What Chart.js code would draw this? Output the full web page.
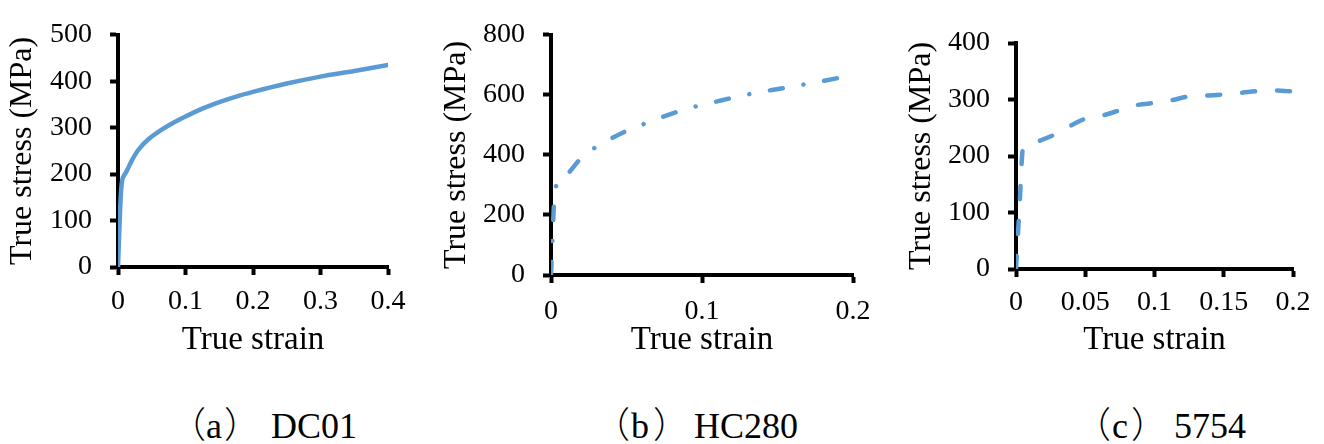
<!DOCTYPE html>
<html>
<head>
<meta charset="utf-8">
<script src="https://cdn.jsdelivr.net/npm/chart.js@4.4.1/dist/chart.umd.min.js"></script>
<style>
  html, body { margin: 0; padding: 0; background: #fff; }
  body { width: 1324px; height: 444px; position: relative; overflow: hidden; }
  canvas { position: absolute; top: 0; }
  .cap { position: absolute; top: 402px; font-family: 'Liberation Serif'; font-size: 36px; line-height: 40px; white-space: nowrap; color: #000; }
  .cap span { display: inline-block; }
  .cj { font-family: 'Noto Sans CJK SC'; font-weight: 300; }
</style>
</head>
<body>
<canvas id="cA" width="430" height="380" style="left:0px"></canvas>
<canvas id="cB" width="460" height="380" style="left:430px"></canvas>
<canvas id="cC" width="434" height="380" style="left:890px"></canvas>
<div class="cap" style="left:170px"><span class="cj" style="width:36px">（</span><span style="width:18px">a</span><span class="cj" style="width:47px">）</span><span>DC01</span></div>
<div class="cap" style="left:594px"><span class="cj" style="width:37px">（</span><span style="width:22px">b</span><span class="cj" style="width:41px">）</span><span>HC280</span></div>
<div class="cap" style="left:1075px"><span class="cj" style="width:37px">（</span><span style="width:19px">c</span><span class="cj" style="width:43px">）</span><span>5754</span></div>
<script>
// ---- data ----
const strainA = [0, 0.002, 0.004, 0.006, 0.009, 0.013, 0.02, 0.03, 0.045, 0.063, 0.08, 0.1, 0.125, 0.15, 0.175, 0.2, 0.25, 0.3, 0.35, 0.4];
const stressA = [0, 80, 150, 185, 197, 207, 228, 252, 275, 294, 309, 324, 341, 355, 367, 377, 395, 410, 422, 435];

const strainB = [0, 0.001, 0.002, 0.0033, 0.011, 0.019, 0.028, 0.039, 0.05, 0.062, 0.073, 0.084, 0.097, 0.109, 0.12, 0.132, 0.145, 0.156, 0.169, 0.181, 0.193];
const stressB = [0, 120, 240, 295, 338, 384, 420, 452, 480, 504, 525, 544, 563, 577, 590, 603, 615, 624, 636, 647, 659];

const strainC = [0, 0.0025, 0.005, 0.008, 0.015, 0.027, 0.039, 0.05, 0.063, 0.075, 0.087, 0.1, 0.113, 0.124, 0.138, 0.15, 0.163, 0.175, 0.188, 0.2];
const stressC = [0, 108, 213, 219, 225, 237, 253, 266, 272, 281, 290, 294, 299, 305, 307, 309, 312, 315, 316, 314];

const xTicksA = [0, 0.1, 0.2, 0.3, 0.4];
const yTicksA = [0, 100, 200, 300, 400, 500];
const xTicksB = [0, 0.1, 0.2];
const yTicksB = [0, 200, 400, 600, 800];
const xTicksC = [0, 0.05, 0.1, 0.15, 0.2];
const yTicksC = [0, 100, 200, 300, 400];

const xTitle = 'True strain';
const yTitle = 'True stress (MPa)';

// ---- styling ----
const FAM = "'Liberation Serif'";
Chart.defaults.font.family = FAM;
Chart.defaults.color = '#000';
const LINE = '#5B9BD5';

function makeChart(id, xs, ys, xTicks, yTicks, dash, lay) {
  const pts = xs.map((x, i) => ({ x: x, y: ys[i] }));
  return new Chart(document.getElementById(id), {
    type: 'line',
    data: { datasets: [{
      data: pts,
      borderColor: LINE,
      borderWidth: 4.5,
      borderDash: dash,
      borderCapStyle: 'round',
      borderJoinStyle: 'round',
      pointRadius: 0,
      cubicInterpolationMode: 'monotone',
      fill: false
    }]},
    options: {
      responsive: false,
      animation: false,
      events: [],
      layout: { padding: { top: lay.top, right: lay.right, bottom: 10, left: 0 } },
      plugins: { legend: { display: false }, tooltip: { enabled: false } },
      scales: {
        x: {
          type: 'linear',
          min: xTicks[0], max: xTicks[xTicks.length - 1],
          afterBuildTicks: s => { s.ticks = xTicks.map(v => ({ value: v })); },
          afterFit: s => { s.height = lay.xh; },
          ticks: { font: { family: FAM, size: 28 }, color: '#000', padding: lay.xpad, maxRotation: 0, autoSkip: false, callback: v => String(v) },
          grid: { display: true, drawOnChartArea: false, drawTicks: true, tickLength: 8, tickWidth: 4, tickColor: '#000' },
          border: { display: true, color: '#000', width: 4 },
          title: { display: true, text: xTitle, color: '#000', font: { family: FAM, size: 33 }, padding: { top: 0, bottom: 10 } }
        },
        y: {
          type: 'linear',
          min: yTicks[0], max: yTicks[yTicks.length - 1],
          afterBuildTicks: s => { s.ticks = yTicks.map(v => ({ value: v })); },
          afterFit: s => { s.width = lay.yw; },
          ticks: { font: { family: FAM, size: 28 }, color: '#000', padding: 18, autoSkip: false, callback: v => String(v) },
          grid: { display: true, drawOnChartArea: false, drawTicks: true, tickLength: 8, tickWidth: 4, tickColor: '#000' },
          border: { display: true, color: '#000', width: 4 },
          title: { display: true, text: yTitle, color: '#000', font: { family: FAM, size: 32 }, padding: { top: lay.ytp, bottom: 0 } }
        }
      }
    }
  });
}

makeChart('cA', strainA, stressA, xTicksA, yTicksA, [], { top: 22, right: 42, xh: 103, yw: 118, xpad: 10, ytp: 3 });
makeChart('cB', strainB, stressB, xTicksB, yTicksB, [13, 21, 0.01, 21], { top: 31, right: 37, xh: 95, yw: 121, xpad: 12, ytp: 7 });
makeChart('cC', strainC, stressC, xTicksC, yTicksC, [13, 22], { top: 43, right: 31, xh: 101, yw: 126, xpad: 9, ytp: 12 });
</script>
</body>
</html>
